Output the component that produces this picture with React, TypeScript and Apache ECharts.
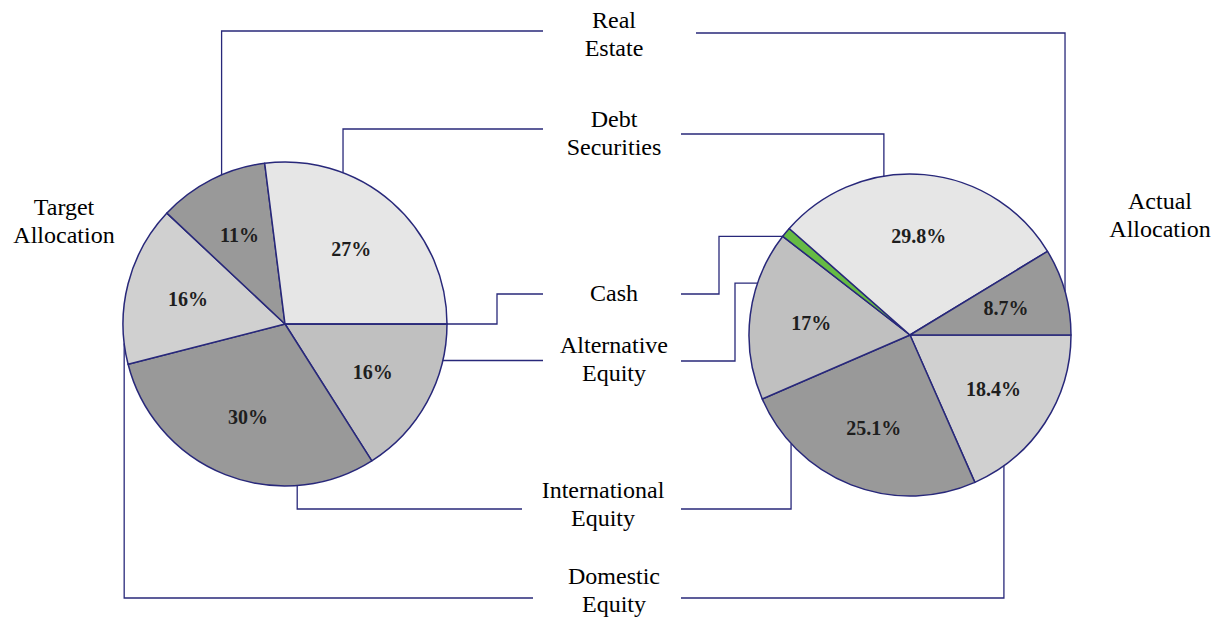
import React, { useEffect, useRef } from 'react';
import * as echarts from 'echarts';

// ---- Data ----
const targetCategories = ['Alternative Equity', 'International Equity', 'Domestic Equity', 'Real Estate', 'Debt Securities', 'Cash'];
const targetValues = [16, 30, 16, 11, 27, 0];

const actualCategories = ['Domestic Equity', 'International Equity', 'Alternative Equity', 'Cash', 'Debt Securities', 'Real Estate'];
const actualValues = [18.4, 25.1, 17, 1.0, 29.8, 8.7];

const middleLabelTexts = ['Real\nEstate', 'Debt\nSecurities', 'Cash', 'Alternative\nEquity', 'International\nEquity', 'Domestic\nEquity'];
const pieTitles = ['Target\nAllocation', 'Actual\nAllocation'];

// ---- Styles / layout ----
const categoryColors: Record<string, string> = {
  'Debt Securities': '#E6E6E6',
  'Real Estate': '#999999',
  'Domestic Equity': '#D0D0D0',
  'Alternative Equity': '#C0C0C0',
  'International Equity': '#999999',
  'Cash': '#66BB44',
};
const NAVY = '#28287A';
const SERIF = '"Liberation Serif", "Times New Roman", Times, serif';

const leftPie = { cx: 285, cy: 324, r: 162 };
const rightPie = { cx: 910, cy: 335, r: 161 };

const middleLabelLayout = [
  { x: 614, y: 34 },
  { x: 614, y: 132.5 },
  { x: 614, y: 293 },
  { x: 614, y: 359 },
  { x: 603, y: 504 },
  { x: 614, y: 589.5 },
];
const titleLayout = [
  { x: 64, y: 221 },
  { x: 1160, y: 215 },
];

type Step = ['h' | 'v', number];
type Conn = { cat: string; frac: number; route: Step[] };

const leftConnectors: Conn[] = [
  { cat: 'Real Estate', frac: 0.6, route: [['v', 31], ['h', 543]] },
  { cat: 'Debt Securities', frac: 0.29, route: [['v', 129], ['h', 543]] },
  { cat: 'Cash', frac: 0, route: [['h', 497], ['v', 294], ['h', 543]] },
  { cat: 'Alternative Equity', frac: 0.226, route: [['h', 543]] },
  { cat: 'International Equity', frac: 0.26, route: [['v', 509], ['h', 522]] },
  { cat: 'Domestic Equity', frac: 0.13, route: [['v', 598], ['h', 533]] },
];
const rightConnectors: Conn[] = [
  { cat: 'Real Estate', frac: 0.5, route: [['v', 33], ['h', 696]] },
  { cat: 'Debt Securities', frac: 0.366, route: [['v', 134], ['h', 681]] },
  { cat: 'Cash', frac: 0, route: [['h', 719], ['v', 294], ['h', 681]] },
  { cat: 'Alternative Equity', frac: 0.69, route: [['h', 735], ['v', 361], ['h', 681]] },
  { cat: 'International Equity', frac: 0.79, route: [['v', 509], ['h', 681]] },
  { cat: 'Domestic Equity', frac: 0.82, route: [['v', 598], ['h', 681]] },
];

function sliceAngles(cats: string[], vals: number[]) {
  const total = vals.reduce((a, b) => a + b, 0);
  const out: Record<string, [number, number]> = {};
  let acc = 0;
  cats.forEach((c, i) => {
    const s = (acc / total) * 360;
    acc += vals[i];
    const e = (acc / total) * 360;
    out[c] = [s, e];
  });
  return out;
}

function buildConnectors(pie: { cx: number; cy: number; r: number }, cats: string[], vals: number[], conns: Conn[]) {
  const angles = sliceAngles(cats, vals);
  return conns.map((cn) => {
    const [s, e] = angles[cn.cat];
    const a = ((s + cn.frac * (e - s)) * Math.PI) / 180;
    let x = pie.cx + pie.r * Math.cos(a);
    let y = pie.cy + pie.r * Math.sin(a);
    const pts: number[][] = [[x, y]];
    cn.route.forEach(([d, v]) => {
      if (d === 'h') x = v;
      else y = v;
      pts.push([x, y]);
    });
    return {
      type: 'polyline',
      silent: true,
      z: 10,
      shape: { points: pts },
      style: { stroke: NAVY, lineWidth: 1.3, fill: 'none' },
    };
  });
}

function pieSeries(pie: { cx: number; cy: number; r: number }, cats: string[], vals: number[]) {
  return [
    {
      type: 'pie',
      center: [pie.cx, pie.cy],
      radius: [0, pie.r],
      startAngle: 0,
      clockwise: true,
      silent: true,
      avoidLabelOverlap: false,
      label: { show: false },
      labelLine: { show: false },
      itemStyle: { borderColor: NAVY, borderWidth: 1.5 },
      data: cats.map((c, i) => ({ name: c, value: vals[i], itemStyle: { color: categoryColors[c] } })),
    },
    {
      type: 'pie',
      center: [pie.cx, pie.cy],
      radius: [pie.r * 0.2, pie.r],
      startAngle: 0,
      clockwise: true,
      silent: true,
      avoidLabelOverlap: false,
      itemStyle: { color: 'rgba(0,0,0,0)', borderWidth: 0 },
      label: {
        show: true,
        position: 'inside',
        formatter: (p: any) => (p.name === 'Cash' ? '' : `${p.value}%`),
        fontFamily: SERIF,
        fontWeight: 'bold',
        fontSize: 20,
        color: '#1E1E1E',
      },
      labelLine: { show: false },
      data: cats.map((c, i) => ({ name: c, value: vals[i] })),
    },
  ];
}

export default function App() {
  const ref = useRef<HTMLDivElement>(null);
  useEffect(() => {
    if (!ref.current) return;
    const chart = echarts.init(ref.current, undefined, { renderer: 'svg' });
    const textStyle = {
      fontFamily: SERIF,
      fontSize: 24,
      lineHeight: 28,
      fill: '#000000',
      align: 'center',
      verticalAlign: 'middle',
    };
    const graphics: any[] = [
      ...buildConnectors(leftPie, targetCategories, targetValues, leftConnectors),
      ...buildConnectors(rightPie, actualCategories, actualValues, rightConnectors),
      ...middleLabelTexts.map((t, i) => ({
        type: 'text',
        x: middleLabelLayout[i].x,
        y: middleLabelLayout[i].y,
        z: 20,
        silent: true,
        style: { ...textStyle, text: t },
      })),
      ...pieTitles.map((t, i) => ({
        type: 'text',
        x: titleLayout[i].x,
        y: titleLayout[i].y,
        z: 20,
        silent: true,
        style: { ...textStyle, text: t },
      })),
    ];
    chart.setOption({
      animation: false,
      backgroundColor: '#ffffff',
      series: [
        ...pieSeries(leftPie, targetCategories, targetValues),
        ...pieSeries(rightPie, actualCategories, actualValues),
      ],
      graphic: graphics,
    });
    return () => chart.dispose();
  }, []);
  return (
    <div
      ref={ref}
      style={{ position: 'fixed', left: 0, top: 0, width: 1215, height: 620, background: '#fff' }}
    />
  );
}
